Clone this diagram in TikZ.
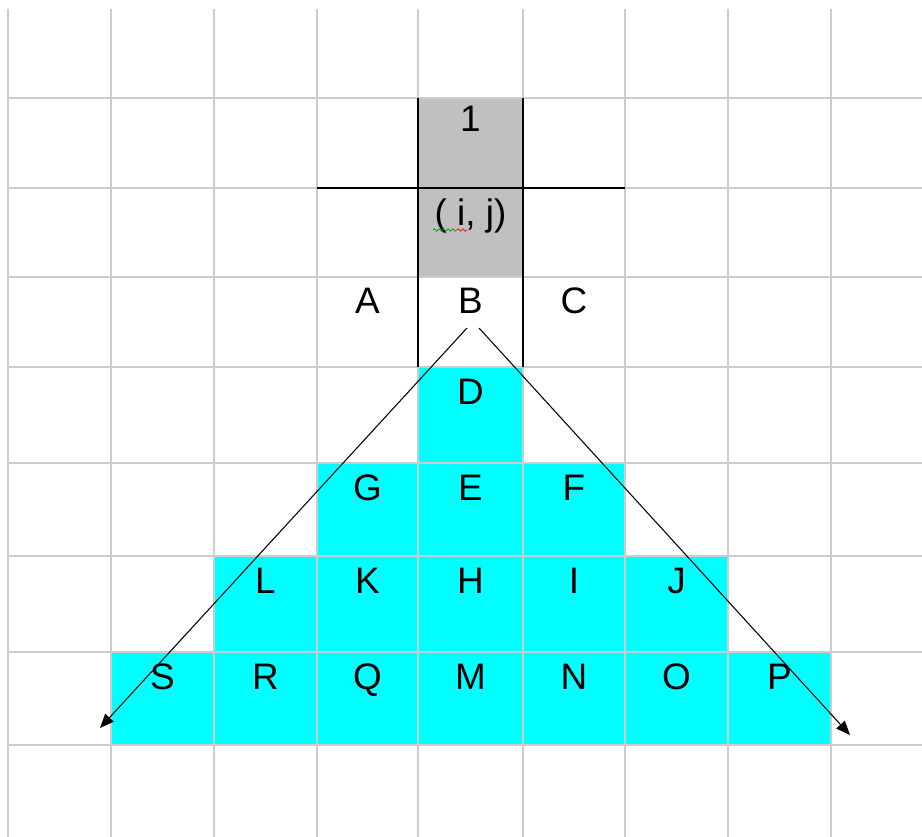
\documentclass[tikz,border=0pt]{standalone}
\usepackage{fontspec}
\setsansfont{Liberation Sans}
\usetikzlibrary{arrows.meta,decorations.pathmorphing}
\definecolor{gridgray}{RGB}{204,204,204}
\definecolor{cellgray}{RGB}{192,192,192}
\definecolor{cellcyan}{RGB}{0,255,255}
\begin{document}
\begin{tikzpicture}[x=0.02cm,y=-0.02cm,>={Triangle[length=8pt,width=6.5pt]},
  every node/.append style={font=\sffamily\fontsize{21}{25}\selectfont},
  cellLabel/.style={anchor=base,inner sep=0pt},
  gridLine/.style={gridgray,line width=0.8pt},
  edgeLine/.style={black,line width=0.8pt}]
  \useasboundingbox (0,0) rectangle (922,837);
  \fill[white] (0,0) rectangle (922,837);

  \fill[cellgray] (418,98) rectangle (523,277);
  \fill[cellcyan] (418,367) rectangle (523,463);
  \fill[cellcyan] (317,463) rectangle (625,556);
  \fill[cellcyan] (214,556) rectangle (728,652);
  \fill[cellcyan] (111,652) rectangle (831,745);

  \foreach \x in {8,111,214,317,418,523,625,728,831}
    \draw[gridLine] (\x,9) -- (\x,837);
  \foreach \y in {98,188,277,367,463,556,652,745}
    \draw[gridLine] (8,\y) -- (922,\y);

  \draw[edgeLine] (317,188) -- (625,188);
  \draw[edgeLine] (418,98) -- (418,367);
  \draw[edgeLine] (523,98) -- (523,367);

  \node[cellLabel] (one) at (470.5,132) {1};
  \node[cellLabel] (ij) at (470.5,226) {( i, j)};
  \draw[green!60!black,line width=0.4pt,decorate,decoration={snake,amplitude=0.7pt,segment length=2.6pt}] (433,230) -- (457,230);
  \draw[red,line width=0.4pt,decorate,decoration={snake,amplitude=0.7pt,segment length=2.6pt}] (457,230) -- (467,230);

  \foreach \lab/\x/\y in {A/367.5/314,B/470.5/314,C/574/314,
      D/470.5/404,
      G/367.5/500,E/470.5/500,F/574/500,
      L/265.5/593,K/367.5/593,H/470.5/593,I/574/593,J/676.5/593,
      S/162.5/689,R/265.5/689,Q/367.5/689,M/470.5/689,N/574/689,O/676.5/689,P/779.5/689}
    \node[cellLabel] (\lab) at (\x,\y) {\lab};

  \coordinate (fanL) at (467,328);
  \coordinate (fanR) at (479,328);
  \coordinate (tipL) at (100,728);
  \coordinate (tipR) at (850,735);
  \draw[->,line width=0.6pt] (fanL) -- (tipL);
  \draw[->,line width=0.6pt] (fanR) -- (tipR);
\end{tikzpicture}
\end{document}
